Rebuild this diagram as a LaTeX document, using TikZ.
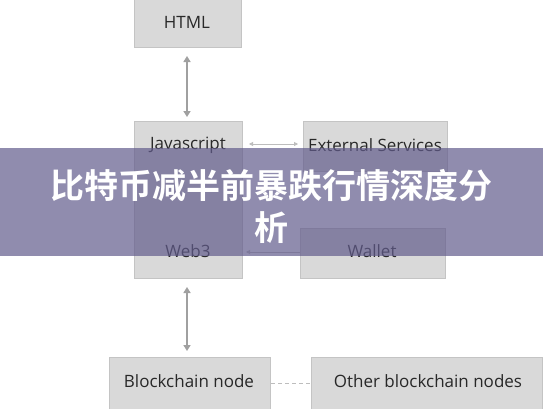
\documentclass[tikz,border=0pt]{standalone}
\usepackage{fontspec}
\setmainfont{Open Sans}
\newfontfamily\cjk{Noto Sans CJK SC Bold}
\usetikzlibrary{arrows.meta}
\definecolor{boxfill}{RGB}{217,217,217}
\definecolor{boxline}{RGB}{196,196,196}
\definecolor{arrowc}{RGB}{160,160,160}
\definecolor{txt}{RGB}{40,40,40}
\definecolor{band}{RGB}{98,92,140}
\tikzset{
  box/.style={draw=boxline, line width=1pt, fill=boxfill},
  lbl/.style={text=txt, font=\fontsize{17}{20}\selectfont, inner sep=0pt},
  link/.style={draw=arrowc, line width=1.6pt, {Triangle[length=6pt,width=7pt]}-{Triangle[length=6pt,width=7pt]}},
  thin link/.style={draw=arrowc!70, line width=0.8pt},
}
\begin{document}
\begin{tikzpicture}[x=1pt,y=-1pt]
\useasboundingbox (0,0) rectangle (543,408);
\fill[white] (0,0) rectangle (543,408);
% boxes
\node[box, minimum width=107pt, minimum height=50pt, anchor=north west] (html) at (134,-3) {};
\node[lbl] (htmlt) at (187,22) {HTML};
\node[box, minimum width=108pt, minimum height=157pt, anchor=north west] (js) at (134,121) {};
\node[lbl] (jst) at (188,145) {Javascript};
\node[lbl] (web3t) at (188,251) {Web3};
\coordinate (web3r) at (242,252);
\node[box, minimum width=144pt, minimum height=50pt, anchor=north west] (ext) at (303,121) {};
\node[lbl] (extt) at (375,145) {External Services};
\node[box, minimum width=145pt, minimum height=50pt, anchor=north west] (wal) at (300,228) {};
\node[lbl] (walt) at (372,251) {Wallet};
\node[box, minimum width=161pt, minimum height=56pt, anchor=north west] (bc) at (109,357) {};
\node[lbl] (bct) at (189,381) {Blockchain node};
\node[box, minimum width=231pt, minimum height=56pt, anchor=north west] (obc) at (311,357) {};
\node[lbl] (obct) at (428,381) {Other blockchain nodes};
% connectors
\draw[link] ([yshift=-8pt]html.south -| 187,0) -- ([yshift=4pt]js.north -| 187,0);
\draw[link] (187,287) -- (187,351);
\draw[thin link, {Triangle[length=4pt,width=4pt]}-{Triangle[length=4pt,width=4pt]}] ([xshift=6pt]js.east |- 0,144) -- ([xshift=-5pt]ext.west |- 0,144);
\draw[thin link, {Triangle[length=4pt,width=4pt]}-] ([xshift=4pt]web3r) -- (wal.west |- 0,252);
\draw[thin link, dashed, dash pattern=on 4pt off 3pt] (bc.east |- 0,383) -- (obc.west |- 0,383);
% banner
\fill[band, opacity=0.7] (0,148) rectangle (543,256);
\node[text=white, font=\cjk\fontsize{34}{42}\selectfont, align=center, inner sep=0pt] (title) at (271.5,206) {比特币减半前暴跌行情深度分\\析};
\end{tikzpicture}
\end{document}
